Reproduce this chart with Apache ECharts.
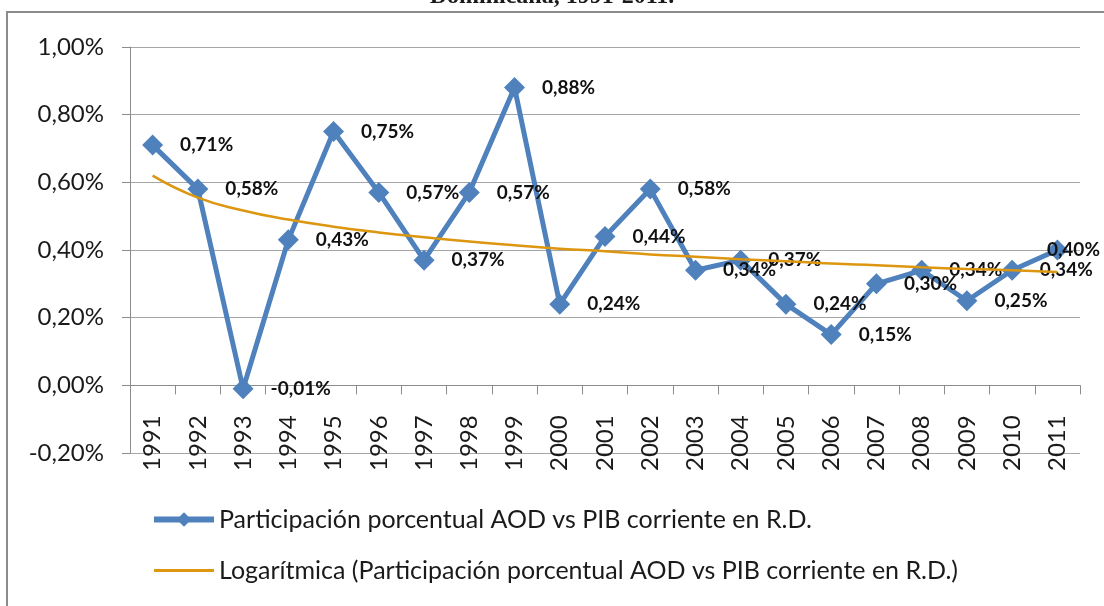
<!DOCTYPE html>
<html lang="es">
<head>
	<meta charset="UTF-8">
	<title>AOD vs PIB</title>
	<style type="text/css">
	body,html{
		width: 100%;
		height: 100%;
		margin: 0;
		padding: 0;
		background: #fff;
	}
	#container{
		width: 1104px;
		height: 606px;
	}
	</style>
</head>
<body>
	<div id="container"></div>
<script type="text/javascript" src="https://cdn.jsdelivr.net/npm/echarts@6/dist/echarts.min.js"></script>
<script type="text/javascript">
	// datos (en %)
	var years = ['1991','1992','1993','1994','1995','1996','1997','1998','1999','2000',
		'2001','2002','2003','2004','2005','2006','2007','2008','2009','2010','2011'];
	var aodPib = [0.71, 0.58, -0.01, 0.43, 0.75, 0.57, 0.37, 0.57, 0.88, 0.24,
		0.44, 0.58, 0.34, 0.37, 0.24, 0.15, 0.30, 0.34, 0.25, 0.34, 0.40];
	// linea de tendencia logaritmica
	var tendencia = [0.62, 0.555, 0.517, 0.490, 0.469, 0.452, 0.438, 0.425, 0.414, 0.404,
		0.396, 0.387, 0.380, 0.373, 0.367, 0.360, 0.355, 0.349, 0.344, 0.340, 0.335];
	var yTicks = [-0.2, 0, 0.2, 0.4, 0.6, 0.8, 1.0];

	var serieNombre = 'Participación porcentual AOD vs PIB corriente en R.D.';
	var tendNombre = 'Logarítmica (Participación porcentual AOD vs PIB corriente en R.D.)';

	var fmt = function (v) {
		return v.toFixed(2).replace('.', ',') + '%';
	};

	var gridTop = 47, gridBottom = 153, alto = 606;
	var plotH = alto - gridTop - gridBottom;
	var yMin = yTicks[0], yMax = yTicks[yTicks.length - 1];
	// el eje de categorias cruza en 0: segundo grid que termina en la linea del cero
	var bajoCero = plotH * (0 - yMin) / (yMax - yMin);
	var largoTick = 9;

	var option = {
		backgroundColor: '#fff',
		animation: false,
		textStyle: { fontFamily: 'Lato' },
		graphic: [{
			type: 'rect',
			shape: { x: 7, y: 12, width: 1200, height: 700 },
			style: { fill: 'none', stroke: '#8c8c8c', lineWidth: 2 },
			silent: true
		}, {
			type: 'text',
			left: 'center',
			top: -15,
			style: {
				text: 'Dominicana, 1991-2011.',
				font: 'bold 24px "Liberation Serif"',
				fill: '#1a1a1a'
			},
			silent: true
		}],
		grid: [{
			left: 130,
			right: 24,
			top: gridTop,
			bottom: gridBottom
		}, {
			left: 130,
			right: 24,
			top: gridTop,
			bottom: gridBottom + bajoCero
		}, {
			// franja fina bajo el cero para las marcas del eje
			left: 130,
			right: 24,
			top: alto - gridBottom - bajoCero,
			bottom: gridBottom + bajoCero - largoTick
		}],
		legend: {
			orient: 'vertical',
			left: 146,
			top: 502,
			itemGap: 26,
			itemWidth: 60,
			itemHeight: 18,
			textStyle: { fontSize: 25, color: '#1a1a1a', fontFamily: 'Lato' },
			data: [{
				name: serieNombre,
				lineStyle: { width: 6 }
			}, {
				name: tendNombre,
				itemStyle: { opacity: 0 },
				lineStyle: { width: 3 }
			}]
		},
		xAxis: [{
			type: 'category',
			gridIndex: 0,
			data: years,
			boundaryGap: true,
			show: false
		}, {
			type: 'category',
			gridIndex: 1,
			data: years,
			boundaryGap: true,
			axisLine: { onZero: false, lineStyle: { color: '#8c8c8c', width: 1 } },
			axisTick: { show: false },
			axisLabel: {
				rotate: 90,
				margin: 30,
				fontSize: 24,
				color: '#1a1a1a',
				fontFamily: 'Lato'
			},
			splitLine: { show: false }
		}, {
			type: 'category',
			gridIndex: 2,
			data: years,
			boundaryGap: true,
			axisLine: { show: false },
			axisTick: { show: false },
			axisLabel: { show: false },
			splitLine: { show: true, interval: 0, lineStyle: { color: '#8c8c8c', width: 1 } }
		}],
		yAxis: [{
			type: 'value',
			gridIndex: 0,
			min: yMin,
			max: yMax,
			interval: 0.2,
			axisLine: { show: true, lineStyle: { color: '#8c8c8c' } },
			axisTick: { show: true, length: 8, lineStyle: { color: '#8c8c8c' } },
			axisLabel: {
				margin: 26,
				fontSize: 24,
				color: '#1a1a1a',
				fontFamily: 'Lato',
				formatter: function (v) { return fmt(v); }
			},
			splitLine: { show: true, lineStyle: { color: '#a6a6a6', width: 1 } }
		}, {
			type: 'value',
			gridIndex: 1,
			min: 0,
			max: yMax,
			show: false
		}, {
			type: 'value',
			gridIndex: 2,
			min: 0,
			max: 1,
			show: false
		}],
		series: [{
			name: serieNombre,
			type: 'line',
			data: aodPib,
			symbol: 'diamond',
			symbolSize: 21,
			itemStyle: { color: '#4f81bd' },
			lineStyle: { color: '#4f81bd', width: 5 },
			z: 3,
			label: {
				show: true,
				position: 'right',
				distance: 17,
				fontSize: 19,
				fontWeight: 'bold',
				color: '#111',
				fontFamily: 'Lato',
				formatter: function (p) { return fmt(p.value); }
			},
			labelLayout: function (params) {
				if (params.dataIndex === years.length - 1) {
					return { dx: -38 };
				}
			}
		}, {
			name: tendNombre,
			type: 'line',
			data: tendencia,
			symbol: 'none',
			smooth: true,
			z: 4,
			lineStyle: { color: '#dc960f', width: 2.5 },
			itemStyle: { color: '#dc960f' }
		}]
	};

	var container = echarts.init(document.getElementById('container'));
	container.setOption(option, true);
</script>
</body>
</html>
